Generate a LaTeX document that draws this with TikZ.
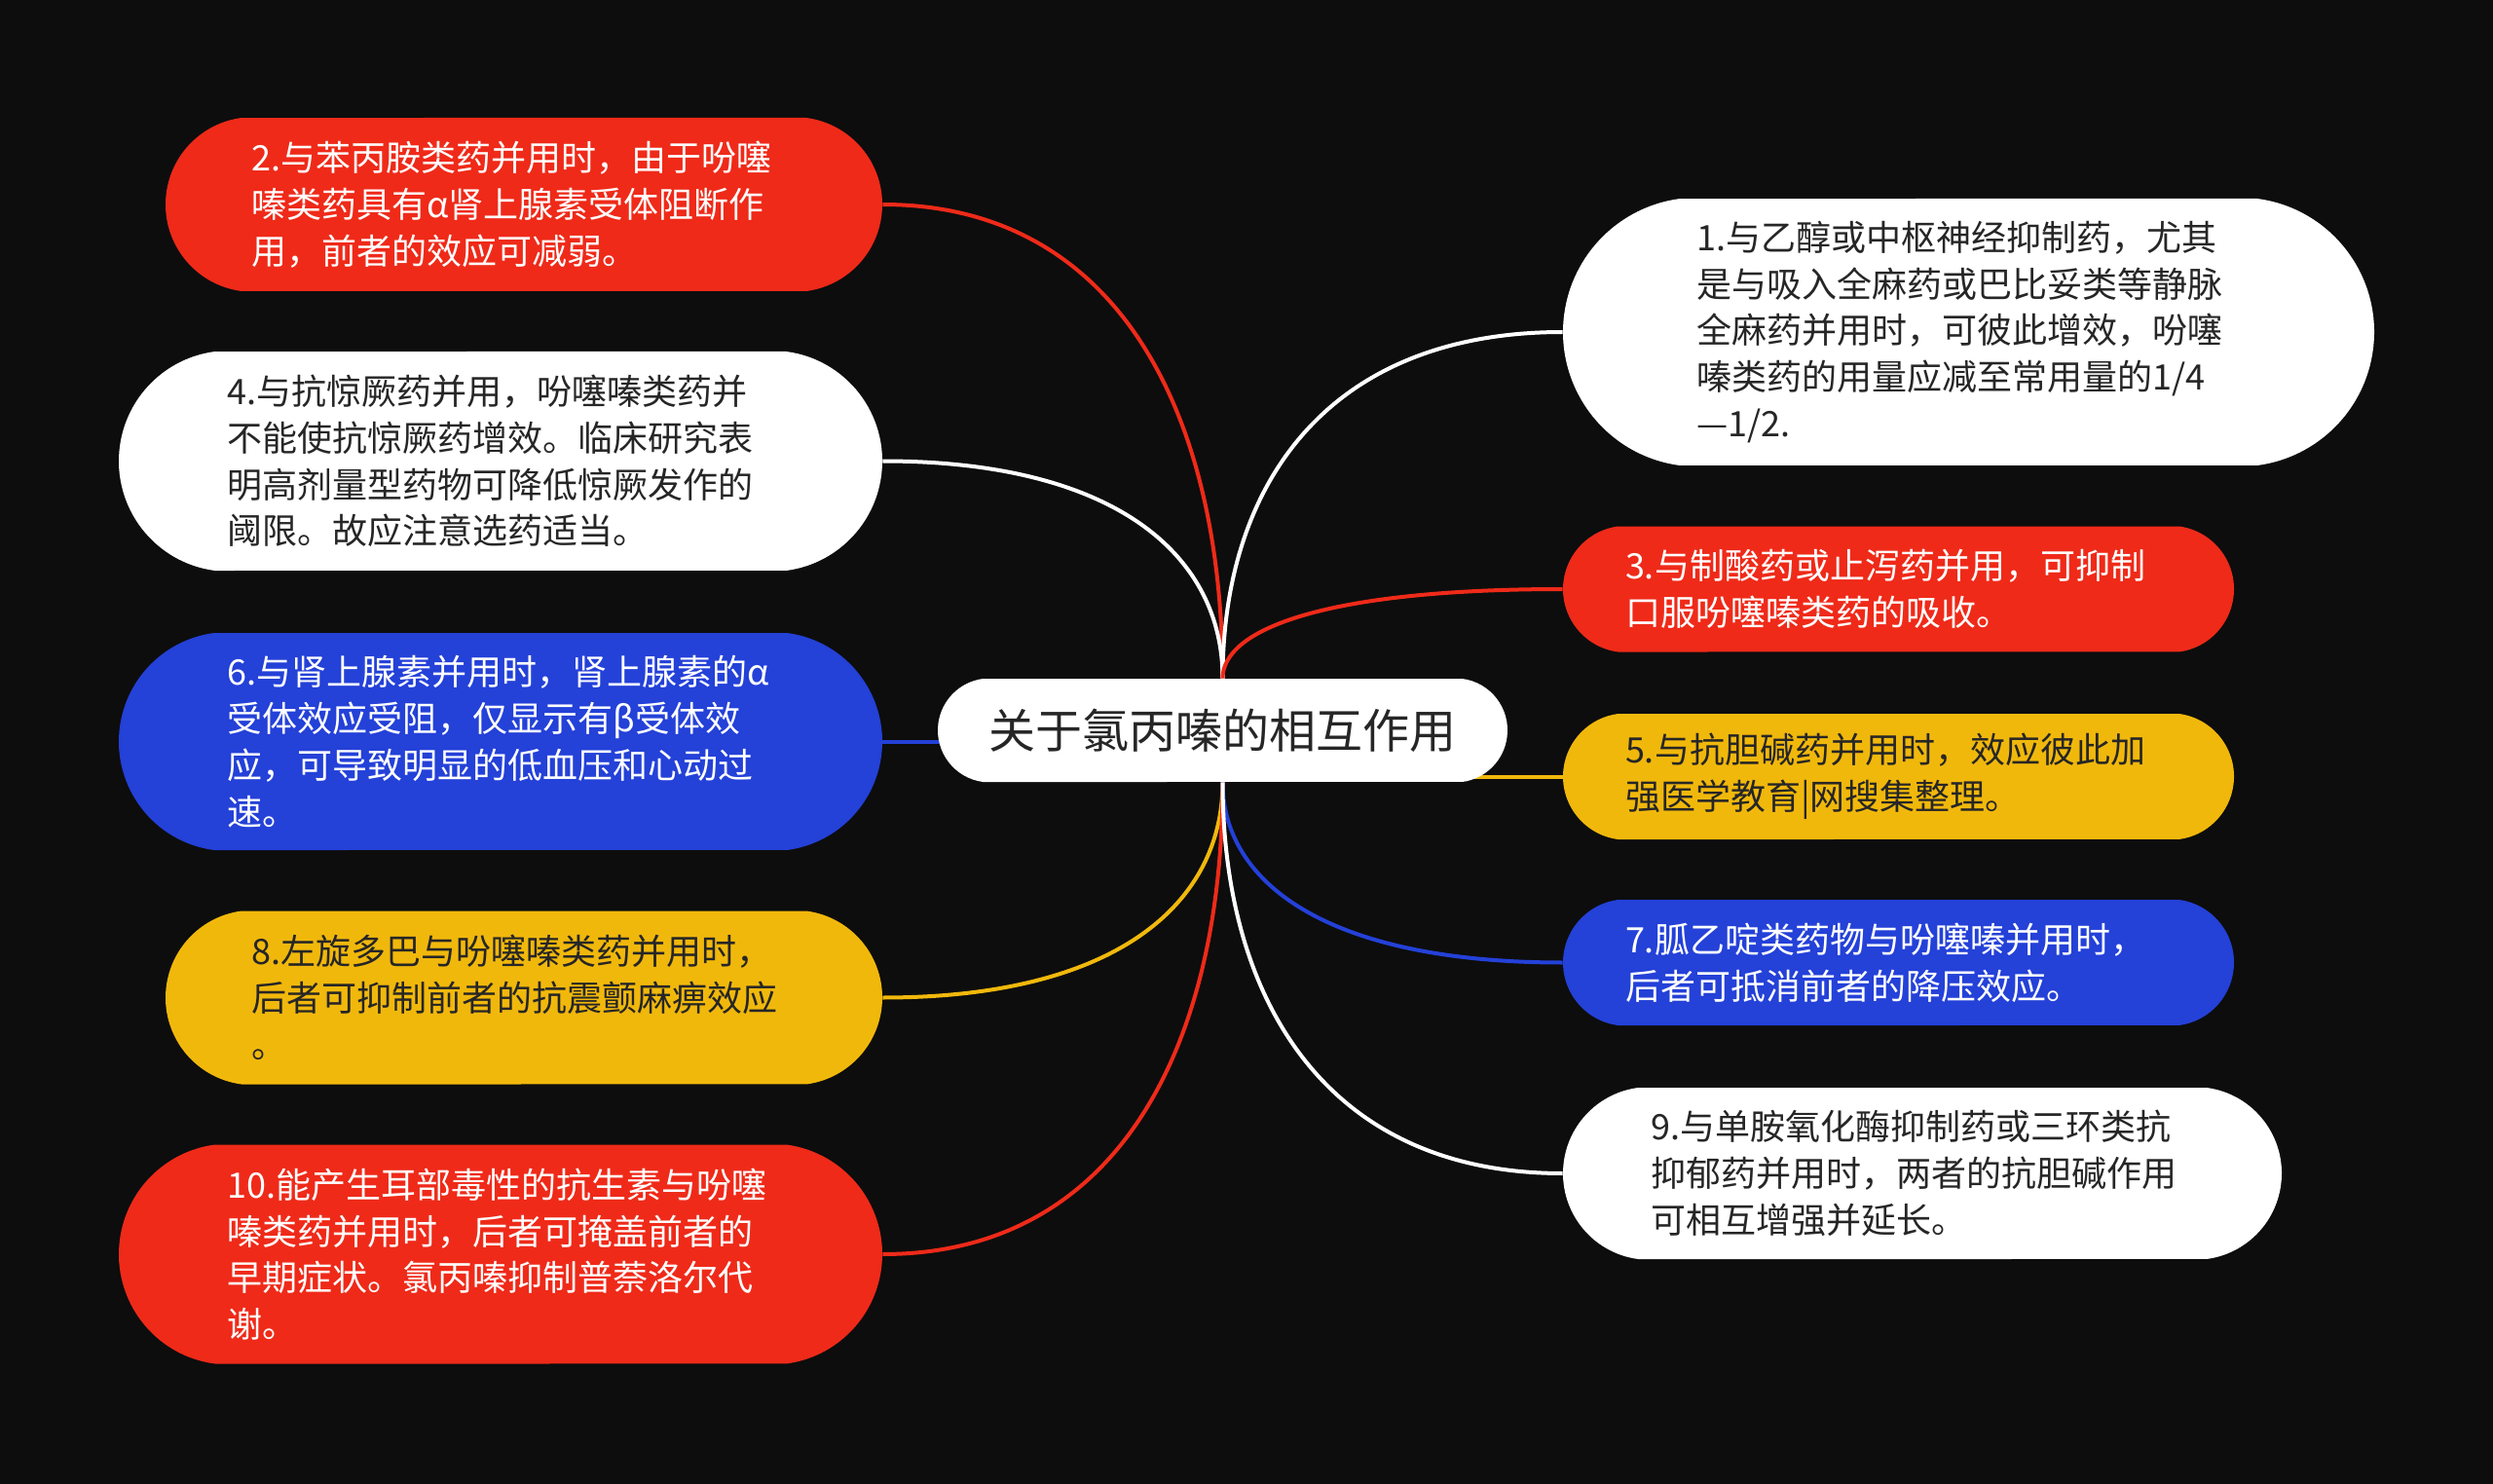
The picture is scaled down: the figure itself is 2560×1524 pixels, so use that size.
\documentclass[tikz,border=0pt]{standalone}
\usepackage{fontspec}
\setmainfont{Noto Sans CJK SC}
\usetikzlibrary{shapes.misc,backgrounds,calc}
\definecolor{bgc}{HTML}{0D0D0D}
\definecolor{mred}{HTML}{EF2A19}
\definecolor{mblue}{HTML}{2441D8}
\definecolor{myel}{HTML}{F1B80C}
\definecolor{mdark}{HTML}{262626}
\newcommand\mmconn[3]{\draw[link,#1] (#2) .. controls ($(#2)!0.55!(#2 |- #3)$) and ($(#3)!0.7!(#3 -| #2)$) .. (#3);}
\begin{document}
\begin{tikzpicture}[x=0.5pt,y=-0.5pt,
  pill/.style={rounded rectangle, rounded rectangle arc length=165, inner sep=0pt, draw=none},
  txt/.style={anchor=west, align=left, inner sep=0pt, font=\fontsize{18pt}{23.9pt}\selectfont},
  link/.style={line width=2pt}
]
\useasboundingbox (0,0) rectangle (2560,1524);

% root
\node[pill, fill=white, minimum width=292.5pt, minimum height=53pt, text=mdark, font=\fontsize{24pt}{29pt}\selectfont] (root) at (1255.5,750) {关于氯丙嗪的相互作用};

% left side
\node[pill, fill=mred, minimum width=368pt, minimum height=89pt] (n2) at (538,210) {};
\node[txt, text=white] (t2) at (258,210) {2.与苯丙胺类药并用时，由于吩噻\\嗪类药具有α肾上腺素受体阻断作\\用，前者的效应可减弱。};

\node[pill, fill=white, minimum width=392pt, minimum height=112.5pt] (n4) at (514,473.5) {};
\node[txt, text=mdark] (t4) at (233.5,473.5) {4.与抗惊厥药并用，吩噻嗪类药并\\不能使抗惊厥药增效。临床研究表\\明高剂量型药物可降低惊厥发作的\\阈限。故应注意选药适当。};

\node[pill, fill=mblue, minimum width=392pt, minimum height=111.5pt] (n6) at (514,761.5) {};
\node[txt, text=white] (t6) at (233.5,761.5) {6.与肾上腺素并用时，肾上腺素的α\\受体效应受阻，仅显示有β受体效\\应，可导致明显的低血压和心动过\\速。};

\node[pill, fill=myel, minimum width=368pt, minimum height=89pt] (n8) at (538,1024.5) {};
\node[txt, text=mdark] (t8) at (258,1024.5) {8.左旋多巴与吩噻嗪类药并用时，\\后者可抑制前者的抗震颤麻痹效应\\。};

\node[pill, fill=mred, minimum width=392pt, minimum height=112.5pt] (n10) at (514,1288) {};
\node[txt, text=white] (t10) at (233.5,1288) {10.能产生耳部毒性的抗生素与吩噻\\嗪类药并用时，后者可掩盖前者的\\早期症状。氯丙嗪抑制普萘洛尔代\\谢。};

% right side
\node[pill, fill=white, minimum width=416.5pt, minimum height=137pt] (n1) at (2021.5,341) {};
\node[txt, text=mdark] (t1) at (1742,341) {1.与乙醇或中枢神经抑制药，尤其\\是与吸入全麻药或巴比妥类等静脉\\全麻药并用时，可彼此增效，吩噻\\嗪类药的用量应减至常用量的1/4\\—1/2.};

\node[pill, fill=mred, minimum width=344.5pt, minimum height=64.5pt] (n3) at (1949.5,605) {};
\node[txt, text=white] (t3) at (1668.6,605) {3.与制酸药或止泻药并用，可抑制\\口服吩噻嗪类药的吸收。};

\node[pill, fill=myel, minimum width=344.5pt, minimum height=64.5pt] (n5) at (1949.5,797.5) {};
\node[txt, text=mdark] (t5) at (1668.6,797.5) {5.与抗胆碱药并用时，效应彼此加\\强医学教育|网搜集整理。};

\node[pill, fill=mblue, minimum width=344.5pt, minimum height=64.5pt] (n7) at (1949.5,988.5) {};
\node[txt, text=white] (t7) at (1668.6,988.5) {7.胍乙啶类药物与吩噻嗪并用时，\\后者可抵消前者的降压效应。};

\node[pill, fill=white, minimum width=369pt, minimum height=88pt] (n9) at (1974,1205) {};
\node[txt, text=mdark] (t9) at (1695,1205) {9.与单胺氧化酶抑制药或三环类抗\\抑郁药并用时，两者的抗胆碱作用\\可相互增强并延长。};

\begin{scope}[on background layer]
\fill[bgc] (0,0) rectangle (2560,1524);
\mmconn{mred}{root.north}{n2.east}
\mmconn{white}{root.north}{n4.east}
\draw[link,mblue] (n6.east) -- (root.center |- n6.east);
\mmconn{myel}{root.south}{n8.east}
\mmconn{mred}{root.south}{n10.east}
\mmconn{white}{root.north}{n1.west}
\mmconn{mred}{root.north}{n3.west}
\draw[link,myel] (root.center |- n5.west) -- (n5.west);
\mmconn{mblue}{root.south}{n7.west}
\mmconn{white}{root.south}{n9.west}
\end{scope}
\end{tikzpicture}
\end{document}
